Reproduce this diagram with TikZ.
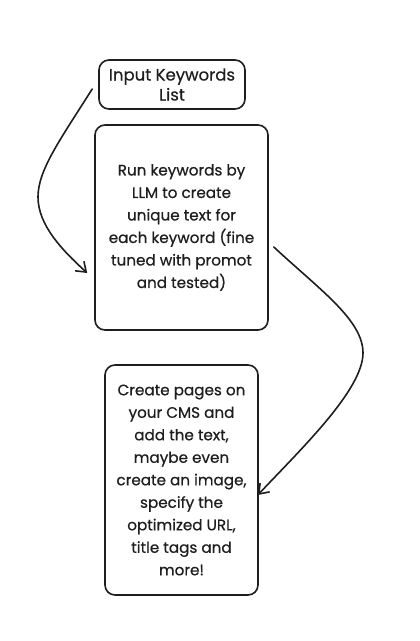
\documentclass[tikz,border=0pt]{standalone}
\usepackage{fontspec}
\setmainfont{Poppins}[FakeBold=0.6]
\usetikzlibrary{arrows.meta}
\definecolor{ink}{HTML}{1E1E1E}
\tikzset{
  box/.style={draw=ink, line width=1.6pt, rounded corners=10pt, inner sep=0pt,
    align=center, text=ink, font=\fontsize{15.2}{22.5}\selectfont},
  flow/.style={draw=ink, line width=1.6pt, line cap=round,
    -{Straight Barb[length=9pt,width=13pt,line width=1.6pt]}}
}
\begin{document}
\begin{tikzpicture}[x=1pt,y=-1pt]
\useasboundingbox (0,0) rectangle (420,641);
\node[box, minimum width=146pt, minimum height=49pt, font=\fontsize{16.5}{20}\selectfont] (b1) at (172,84.5) {Input Keywords\\List};
\node[box, minimum width=173pt, minimum height=205pt] (b2) at (181.5,227.5) {Run keywords by\\LLM to create\\unique text for\\each keyword (fine\\tuned with promot\\and tested)};
\node[box, minimum width=153pt, minimum height=230pt] (b3) at (181.5,480) {Create pages on\\your CMS and\\add the text,\\maybe even\\create an image,\\specify the\\optimized URL,\\title tags and\\more!};
\coordinate (a1s) at ([xshift=-6pt,yshift=-4.5pt]b1.west);
\coordinate (a1e) at ([xshift=-7pt,yshift=-45.5pt]b2.west);
\coordinate (a2s) at ([xshift=5pt,yshift=-19.5pt]b2.east);
\coordinate (a2e) at ([xshift=-1pt,yshift=-15pt]b3.east);
\draw[flow] (a1s) .. controls (60,140) and (38,170) .. (38,197) .. controls (38,225) and (62,250) .. (a1e);
\draw[flow] (a2s) .. controls (320,290) and (363,320) .. (363,353) .. controls (363,390) and (300,450) .. (a2e);
\end{tikzpicture}
\end{document}
